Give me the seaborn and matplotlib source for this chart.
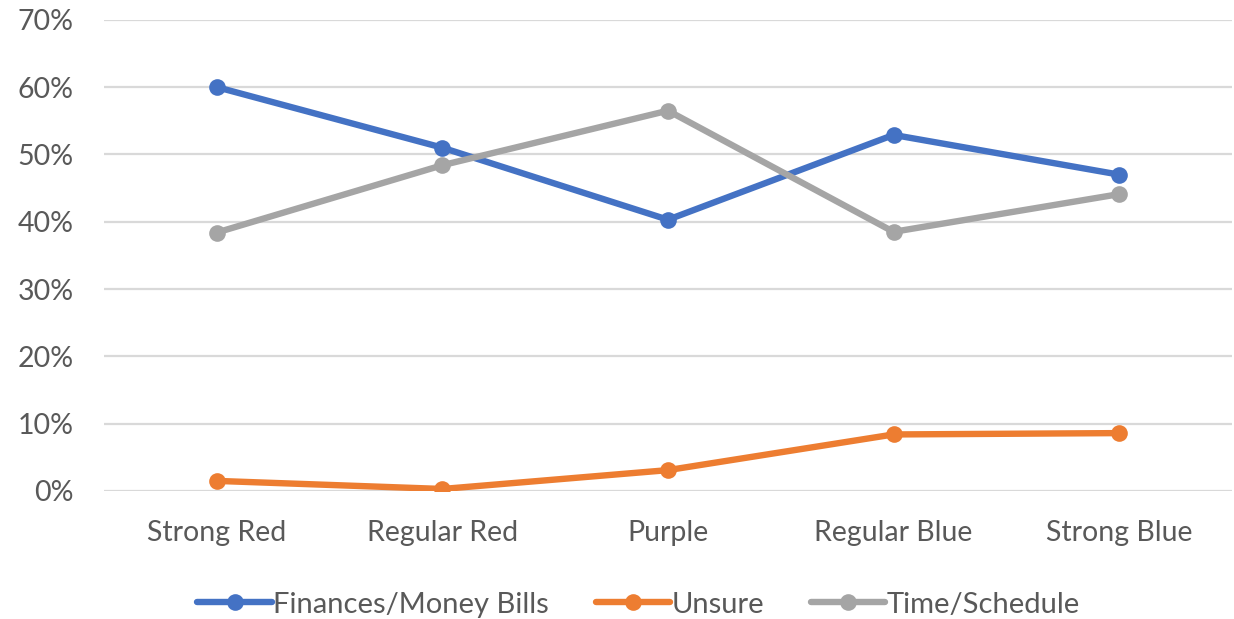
import matplotlib
matplotlib.use("Agg")
import matplotlib.pyplot as plt
import seaborn as sns
import pandas as pd
from matplotlib.ticker import FuncFormatter, MultipleLocator

categories = ["Strong Red", "Regular Red", "Purple", "Regular Blue", "Strong Blue"]
finances = [60.0, 51.0, 40.3, 52.9, 47.0]
unsure = [1.5, 0.3, 3.1, 8.4, 8.6]
time_schedule = [38.4, 48.4, 56.5, 38.5, 44.1]
series_names = ["Finances/Money Bills", "Unsure", "Time/Schedule"]
colors = ["#4472C4", "#ED7D31", "#A5A5A5"]

sns.set_theme(style="white")
plt.rcParams['font.family'] = ['Lato', 'DejaVu Sans']

rows = []
for name, vals in zip(series_names, [finances, unsure, time_schedule]):
    for i, (c, v) in enumerate(zip(categories, vals)):
        rows.append({"x": i, "category": c, "value": v, "series": name})
df = pd.DataFrame(rows)

fig = plt.figure(figsize=(12.34, 6.19), dpi=100)
ax = fig.add_axes([0.0843, 0.2068, 0.9140, 0.7612])

for name, col in zip(series_names, colors):
    sub = df[df["series"] == name]
    sns.lineplot(data=sub, x="x", y="value", ax=ax, color=col, linewidth=4.6,
                 marker="o", markersize=12, markeredgewidth=0, label=name)

ax.set_xlim(-0.5, len(categories) - 0.5)
ax.set_ylim(0, 70)
ax.yaxis.set_major_locator(MultipleLocator(10))
ax.yaxis.set_major_formatter(FuncFormatter(lambda v, p: f"{int(round(v))}%"))
ax.set_xticks(range(len(categories)))
ax.set_xticklabels(categories)
ax.set_xlabel("")
ax.set_ylabel("")
ax.grid(axis="y", color="#D9D9D9", linewidth=1.6)
ax.set_axisbelow(True)
for s in ax.spines.values():
    s.set_visible(False)
ax.tick_params(axis="both", length=0, labelsize=20.5, labelcolor="#595959")
ax.tick_params(axis="x", pad=21)
ax.tick_params(axis="y", pad=22)

ax.legend(loc="upper center", bbox_to_anchor=(0.474, -0.158), ncol=3, frameon=False,
          fontsize=21, labelcolor="#595959", handlelength=2.55, handletextpad=0.05,
          columnspacing=1.6)

fig.savefig("out.png", dpi=100)
